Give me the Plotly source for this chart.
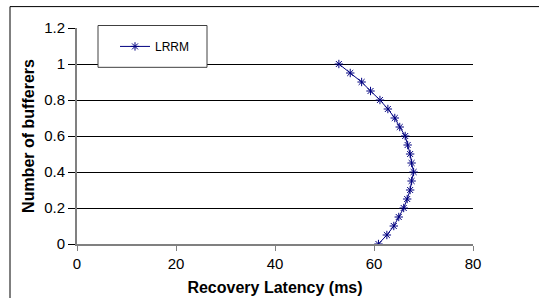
import plotly.graph_objects as go

buffer_fraction = [1.0, 0.95, 0.9, 0.85, 0.8, 0.75, 0.7, 0.65, 0.6, 0.55, 0.5,
                   0.45, 0.4, 0.35, 0.3, 0.25, 0.2, 0.15, 0.1, 0.05, 0.0]
latency_ms = [52.9, 55.2, 57.5, 59.3, 61.2, 62.8, 64.2, 65.2, 66.3, 66.8, 67.3,
              67.6, 68.0, 67.6, 67.3, 66.7, 66.0, 65.0, 64.0, 62.6, 60.9]
x_ticks = [0, 20, 40, 60, 80]
y_ticks = [0, 0.2, 0.4, 0.6, 0.8, 1.0, 1.2]
y_tick_labels = ["0", "0.2", "0.4", "0.6", "0.8", "1", "1.2"]

W, H = 539, 298
L, R, T, B = 77, 66, 27.5, 53.5
pw, ph = W - L - R, H - T - B

def px_x(p):
    return (p - L) / pw

def px_y(p):
    return 1 - (p - T) / ph

fig = go.Figure()
fig.add_trace(go.Scatter(
    x=latency_ms, y=buffer_fraction, mode="lines+markers", name="LRRM",
    line=dict(color="#000080", width=1),
    marker=dict(symbol="asterisk-open", size=7, color="#000080",
                line=dict(color="#000080", width=1)),
))

font = "Liberation Sans, Arial, sans-serif"
fig.update_layout(
    width=W, height=H,
    margin=dict(l=L, r=R, t=T, b=B, pad=0, autoexpand=False),
    paper_bgcolor="white", plot_bgcolor="white",
    font=dict(family=font, color="black"),
    showlegend=True,
    legend=dict(x=px_x(115), y=px_y(46), xanchor="left", yanchor="middle",
                bgcolor="rgba(0,0,0,0)", borderwidth=0,
                font=dict(size=12, family=font, color="black")),
    xaxis=dict(range=[0, 80], tickvals=x_ticks, ticks="outside", ticklen=5,
               tickcolor="#808080", tickwidth=1, showgrid=False, zeroline=False,
               showline=True, linecolor="#808080", linewidth=1.5,
               tickfont=dict(size=15), automargin=False,
               title=dict(text="<b>Recovery Latency (ms)</b>", font=dict(size=16), standoff=11)),
    yaxis=dict(range=[0, 1.2], tickvals=y_ticks, ticktext=y_tick_labels,
               ticks="outside", ticklen=7, tickcolor="black", tickwidth=1,
               showgrid=True, gridcolor="black", gridwidth=1, zeroline=False,
               showline=True, linecolor="#808080", linewidth=2,
               tickfont=dict(size=15), automargin=False,
               title=dict(text="<b>Number of bufferers</b>", font=dict(size=16), standoff=6)),
    shapes=[
        dict(type="rect", xref="paper", yref="paper",
             x0=px_x(98), x1=px_x(207), y0=px_y(67), y1=px_y(25),
             line=dict(color="#404040", width=1), fillcolor="white", layer="above"),
        dict(type="line", xref="paper", yref="paper",
             x0=px_x(10), x1=px_x(560), y0=px_y(6), y1=px_y(6),
             line=dict(color="black", width=1)),
        dict(type="line", xref="paper", yref="paper",
             x0=px_x(10), x1=px_x(10), y0=px_y(6), y1=px_y(320),
             line=dict(color="black", width=1)),
    ],
)

fig.write_html("out.html", config={"displayModeBar": False},
               post_script="document.body.style.margin='0px';document.body.style.overflow='hidden';")
